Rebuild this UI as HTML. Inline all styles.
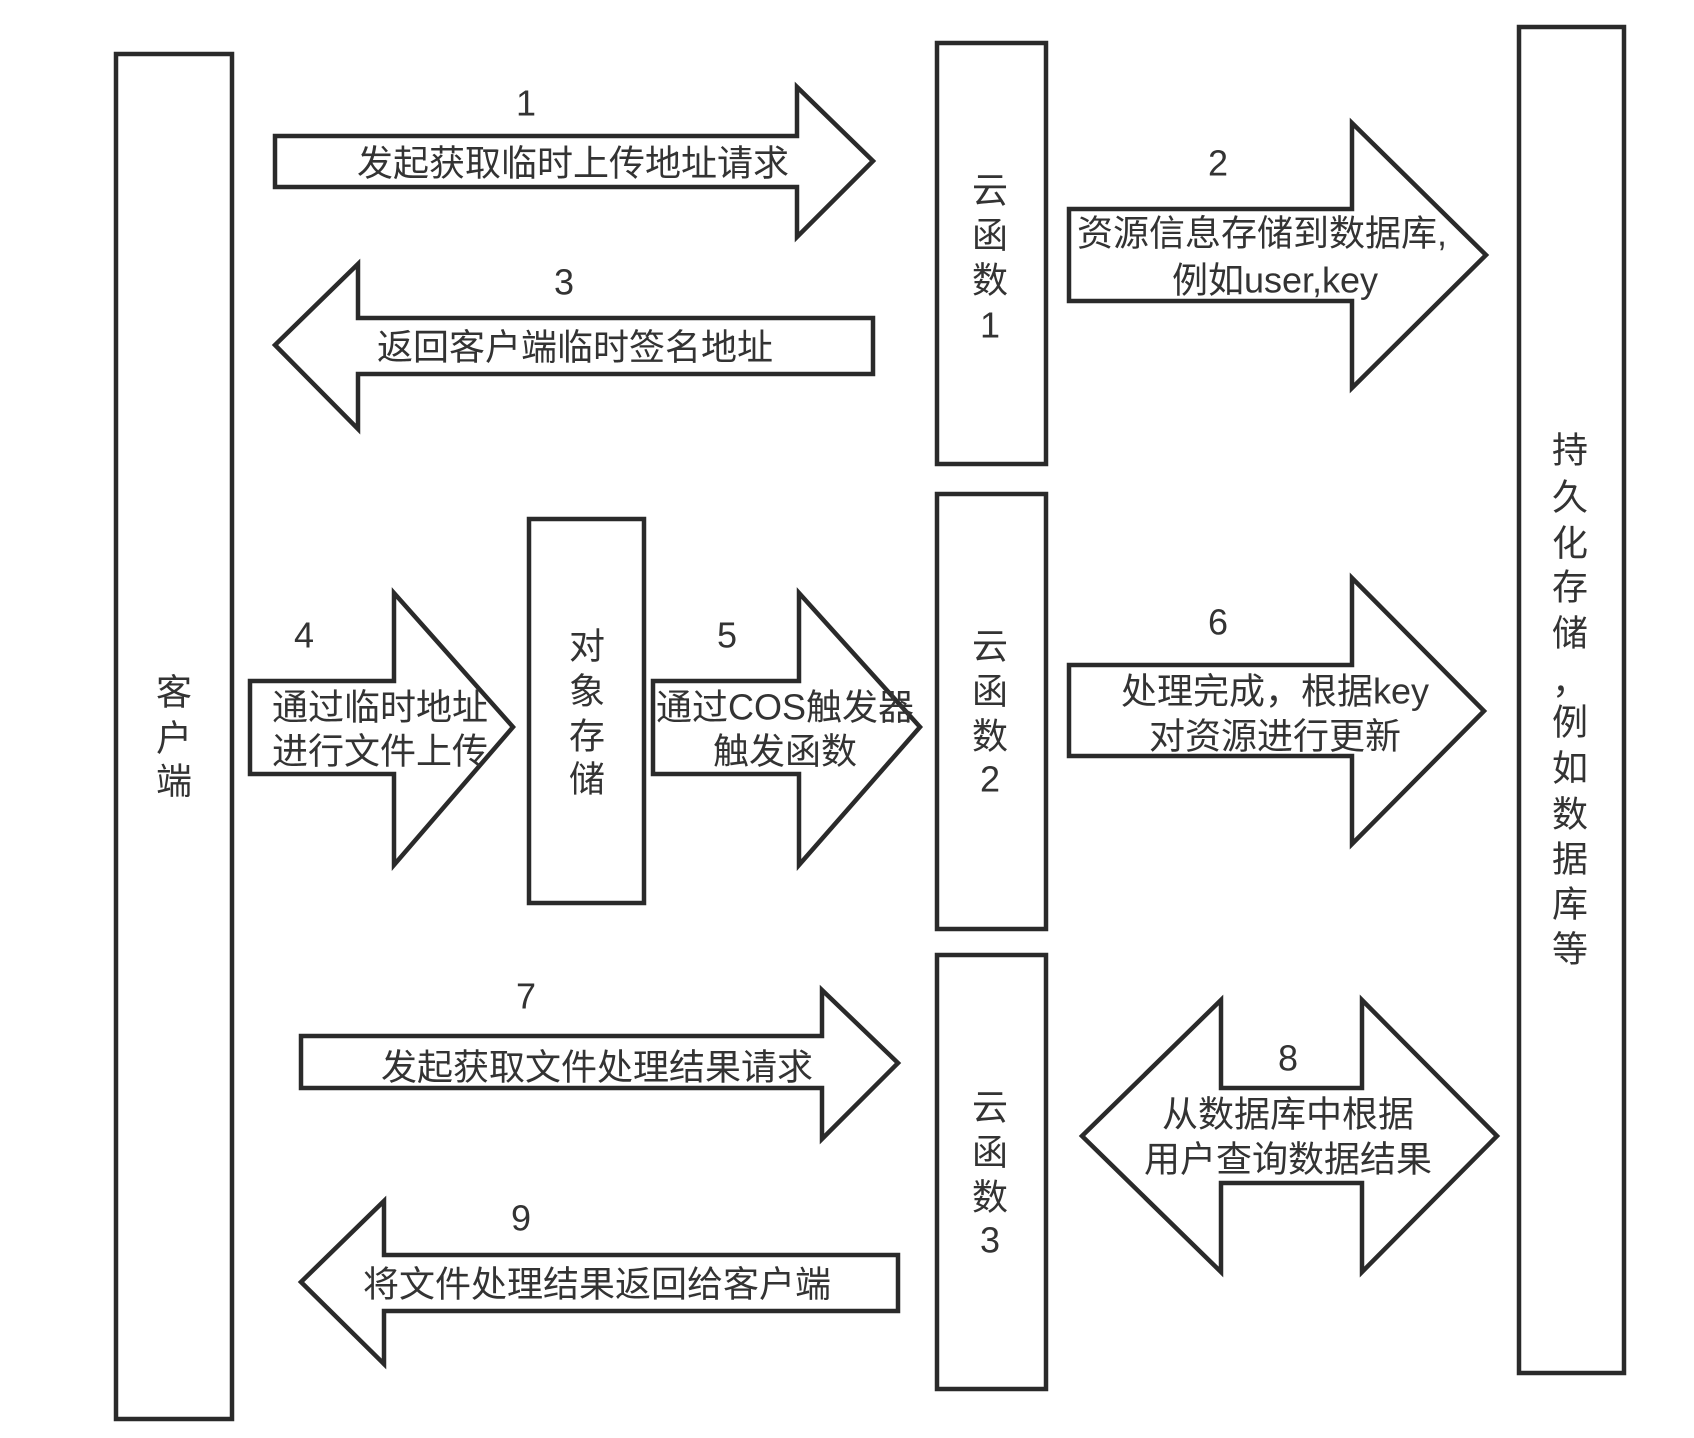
<!DOCTYPE html>
<html><head><meta charset="utf-8"><style>
html,body{margin:0;padding:0;background:#fff;}
svg{display:block;}
text{font-family:"Liberation Sans","Noto Sans CJK SC",sans-serif;fill:#333;font-size:36px;}
.s{fill:#fff;stroke:#2a2a2a;stroke-width:4.5;stroke-linejoin:miter;}
</style></head><body>
<svg width="1694" height="1438" viewBox="0 0 1694 1438" xmlns="http://www.w3.org/2000/svg">
<rect class="s" x="116" y="54" width="116" height="1365"/>
<rect class="s" x="937" y="43" width="109" height="421"/>
<rect class="s" x="937" y="494" width="109" height="435"/>
<rect class="s" x="937" y="955" width="109" height="434"/>
<rect class="s" x="1519" y="27" width="105" height="1346"/>
<rect class="s" x="529" y="519" width="115" height="384"/>
<polygon class="s" points="275,136 797,136 797,87 873,161 797,237 797,187 275,187"/>
<polygon class="s" points="873,318 358,318 358,264 275,345 358,429 358,374 873,374"/>
<polygon class="s" points="1069,209 1352,209 1352,123 1486,255 1352,388 1352,301 1069,301"/>
<polygon class="s" points="250,681 394,681 394,593 513,727 394,865 394,774 250,774"/>
<polygon class="s" points="653,681 799,681 799,593 920,727 799,865 799,774 653,774"/>
<polygon class="s" points="1069,665 1352,665 1352,578 1484,711 1352,844 1352,756 1069,756"/>
<polygon class="s" points="301,1036 822,1036 822,990 898,1063 822,1139 822,1088 301,1088"/>
<polygon class="s" points="898,1255 384,1255 384,1201 301,1282 384,1364 384,1311 898,1311"/>
<polygon class="s" points="1082,1136 1221,1000 1221,1088 1362,1088 1362,1000 1497,1136 1362,1272 1362,1183 1221,1183 1221,1272"/>
<g text-anchor="middle" dominant-baseline="central">
<text x="526" y="103">1</text>
<text x="564" y="282">3</text>
<text x="1218" y="163">2</text>
<text x="304" y="635">4</text>
<text x="727" y="635">5</text>
<text x="1218" y="622">6</text>
<text x="526" y="996">7</text>
<text x="521" y="1218">9</text>
<text x="1288" y="1058">8</text>
<text x="573" y="163">发起获取临时上传地址请求</text>
<text x="575" y="347">返回客户端临时签名地址</text>
<text x="1262" y="233">资源信息存储到数据库,</text>
<text x="1275" y="280">例如user,key</text>
<text x="380" y="707">通过临时地址</text>
<text x="380" y="751">进行文件上传</text>
<text x="785" y="707">通过COS触发器</text>
<text x="785" y="751">触发函数</text>
<text x="1275" y="691">处理完成，根据key</text>
<text x="1275" y="736">对资源进行更新</text>
<text x="597" y="1067">发起获取文件处理结果请求</text>
<text x="597" y="1284">将文件处理结果返回给客户端</text>
<text x="1288" y="1114">从数据库中根据</text>
<text x="1288" y="1159">用户查询数据结果</text>
<text x="174" y="692">客</text><text x="174" y="738">户</text><text x="174" y="781">端</text>
<text x="587" y="646">对</text><text x="587" y="691">象</text><text x="587" y="736">存</text><text x="587" y="779">储</text>
<text x="990" y="190">云</text><text x="990" y="235">函</text><text x="990" y="280">数</text><text x="990" y="325">1</text>
<text x="990" y="646">云</text><text x="990" y="691">函</text><text x="990" y="736">数</text><text x="990" y="779">2</text>
<text x="990" y="1107">云</text><text x="990" y="1152">函</text><text x="990" y="1197">数</text><text x="990" y="1240">3</text>
<text x="1570" y="450">持</text><text x="1570" y="497">久</text><text x="1570" y="543">化</text><text x="1570" y="587">存</text><text x="1570" y="633">储</text><text x="1570" y="681">，</text><text x="1570" y="722">例</text><text x="1570" y="768">如</text><text x="1570" y="814">数</text><text x="1570" y="859">据</text><text x="1570" y="904">库</text><text x="1570" y="949">等</text>
</g>
</svg>
</body></html>
